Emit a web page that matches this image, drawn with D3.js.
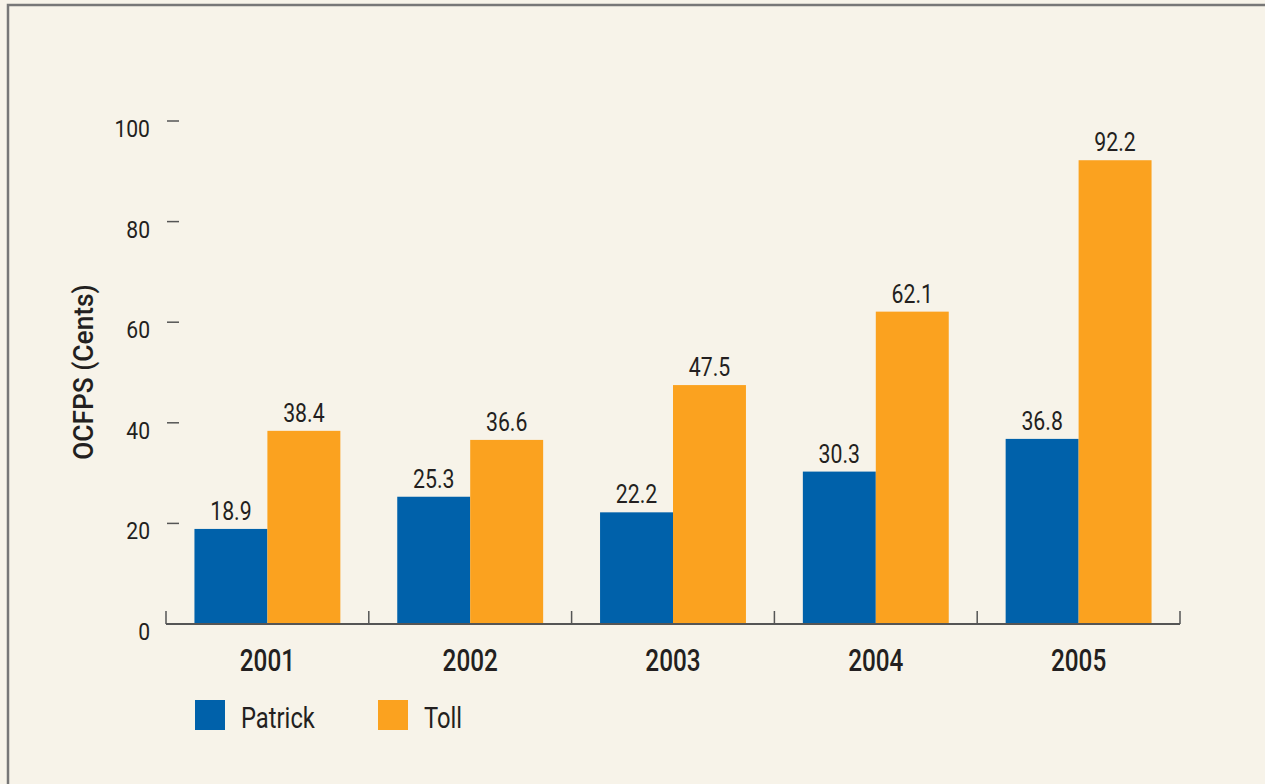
<!DOCTYPE html>
<html>
<head>
<meta charset="utf-8">
<script src="https://cdn.jsdelivr.net/npm/d3@7"></script>
<style>
  body { margin: 0; background: #f7f3e9; }
  svg { display: block; }
  text { font-family: "Roboto", "Liberation Sans", sans-serif; fill: #231f20; }
</style>
</head>
<body>
<script>
const years = ["2001", "2002", "2003", "2004", "2005"];
const seriesNames = ["Patrick", "Toll"];
const patrick = [18.9, 25.3, 22.2, 30.3, 36.8];
const toll = [38.4, 36.6, 47.5, 62.1, 92.2];
const yTicks = [0, 20, 40, 60, 80, 100];
const colors = ["#0061aa", "#fba21f"];

const width = 1265, height = 784;
const svg = d3.select("body").append("svg")
    .attr("width", width)
    .attr("height", height);

// squeeze text sideways to get the condensed look
function squeeze(sel, fx, fy, sx) {
    sel.attr("transform", (d, i) => `translate(${fx(d, i)},${fy(d, i)}) scale(${sx},1)`);
}

// frame
svg.append("rect").attr("x", 0).attr("y", 0).attr("width", width).attr("height", height).attr("fill", "#f7f3e9");
svg.append("path").attr("d", `M8,${height} V5 H${width}`)
    .attr("fill", "none").attr("stroke", "#777").attr("stroke-width", 2.5);

const x0 = d3.scaleBand().domain(years).range([166, 1180]);
const x1 = d3.scaleBand().domain(seriesNames).range([0, x0.bandwidth()]).paddingOuter(0.39);
const y = d3.scaleLinear().domain([0, 100]).range([624, 121]);

const vals = [patrick, toll];

// bars + value labels
const g = svg.append("g");
seriesNames.forEach((s, si) => {
    g.selectAll(".bar" + si)
        .data(years)
        .enter().append("rect")
        .attr("x", d => x0(d) + x1(s))
        .attr("y", (d, i) => y(vals[si][i]))
        .attr("width", x1.bandwidth())
        .attr("height", (d, i) => y(0) - y(vals[si][i]))
        .attr("fill", colors[si]);
    g.selectAll(".lab" + si)
        .data(years)
        .enter().append("text")
        .attr("text-anchor", "middle")
        .attr("font-size", 25)
        .text((d, i) => vals[si][i].toFixed(1))
        .call(squeeze, d => x0(d) + x1(s) + x1.bandwidth() / 2, (d, i) => y(vals[si][i]) - 9, 0.85);
});

// x axis: baseline with upward ticks at band edges
const edges = years.map(d => x0(d)).concat([x0.range()[1]]);
svg.append("line").attr("x1", 166).attr("x2", 1180).attr("y1", y(0)).attr("y2", y(0))
    .attr("stroke", "#555").attr("stroke-width", 2);
svg.selectAll(".xt").data(edges).enter().append("line")
    .attr("x1", d => d).attr("x2", d => d)
    .attr("y1", y(0)).attr("y2", y(0) - 13)
    .attr("stroke", "#555").attr("stroke-width", 1.5);
svg.selectAll(".xl").data(years).enter().append("text")
    .attr("text-anchor", "middle")
    .attr("font-size", 32)
    .attr("font-weight", 500)
    .text(d => d)
    .call(squeeze, d => x0(d) + x0.bandwidth() / 2, () => 671, 0.76);

// y axis: dashes with labels
svg.selectAll(".yt").data(yTicks.filter(d => d > 0)).enter().append("line")
    .attr("x1", 167).attr("x2", 179)
    .attr("y1", d => y(d)).attr("y2", d => y(d))
    .attr("stroke", "#555").attr("stroke-width", 1.5);
svg.selectAll(".yl").data(yTicks).enter().append("text")
    .attr("text-anchor", "end")
    .attr("font-size", 24)
    .text(d => d)
    .call(squeeze, () => 150, d => y(d) + 16, 0.88);

svg.append("text")
    .attr("transform", "translate(93,372) rotate(-90) scale(0.94,1)")
    .attr("text-anchor", "middle")
    .attr("font-size", 28)
    .attr("font-weight", 500)
    .text("OCFPS (Cents)");

// legend
const legX = [195, 378];
seriesNames.forEach((s, i) => {
    svg.append("rect").attr("x", legX[i]).attr("y", 700).attr("width", 30).attr("height", 30).attr("fill", colors[i]);
    svg.append("text")
        .attr("transform", `translate(${legX[i] + 46},728) scale(0.82,1)`)
        .attr("font-size", 29)
        .text(s);
});
</script>
</body>
</html>
